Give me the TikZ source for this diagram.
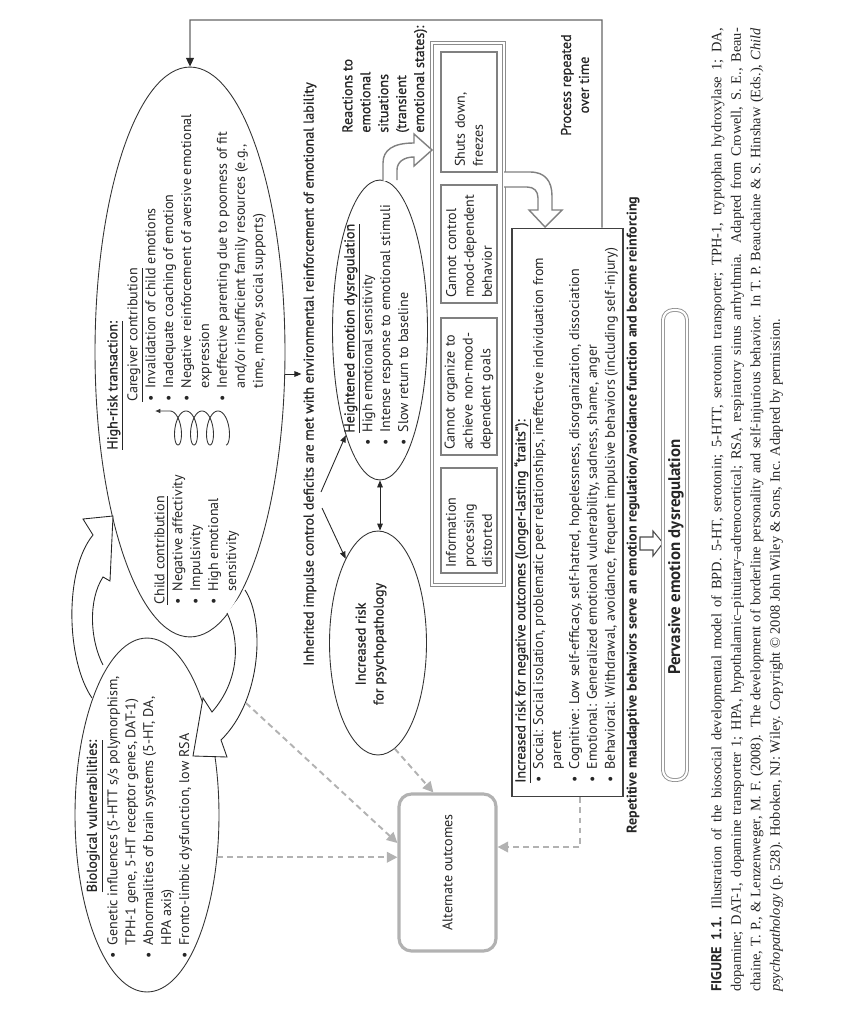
\documentclass[tikz,border=0pt]{standalone}
\usepackage{fontspec}
\usepackage{graphicx}
\setmainfont{Liberation Serif}
\newfontfamily\dgfont{PT Sans}
\newfontfamily\dgsemi[FakeBold=0.9]{PT Sans}
\usetikzlibrary{shapes.geometric,arrows.meta,positioning}
\newcommand{\bul}{\makebox[0.95em][l]{\textbullet}}
\newcommand{\cnt}{\hspace*{0.95em}}
\begin{document}
\begin{tikzpicture}[x=0.02cm,y=-0.02cm]
        \tikzstyle{txt}=[rotate=90,inner sep=0pt,align=left,text=black!85,font=\dgfont\fontsize{8}{10.2}\selectfont]
        \tikzstyle{stxt}=[txt,font=\dgsemi\fontsize{8}{10.2}\selectfont]
        \tikzstyle{btxt}=[txt,font=\dgfont\bfseries\fontsize{8}{10.2}\selectfont]
        \tikzstyle{oval}=[ellipse,draw=black!80,line width=0.5pt,inner sep=0pt]
        \tikzstyle{sbox}=[rectangle,draw=black!50,line width=0.8pt,rotate=90,inner xsep=0.1cm,inner ysep=0pt,align=left,minimum height=1.12cm,text=black!85,font=\dgfont\fontsize{8}{10.2}\selectfont]
        \tikzstyle{dbl}=[draw=black!45,double=white,double distance=1.2pt,line width=0.5pt,inner sep=0pt]
        \tikzstyle{blk}=[draw=black!85,fill=white,line width=0.5pt]
        \tikzstyle{gblk}=[draw=black!50,fill=white,line width=0.8pt]
        \tikzstyle{arr}=[draw=black!85,line width=0.5pt,-{Triangle[length=4pt,width=3.2pt]}]
        \tikzstyle{darr}=[draw=black!85,line width=0.5pt,{Triangle[length=4pt,width=3.2pt]}-{Triangle[length=4pt,width=3.2pt]}]
        \tikzstyle{dsh}=[draw=black!30,line width=1.1pt,dash pattern=on 3.4pt off 2.3pt,-{Triangle[length=6pt,width=6pt]}]
        \tikzstyle{fbk}=[draw=black!60,line width=0.7pt,-{Triangle[length=5pt,width=4.5pt,color=black!85]}]
        \useasboundingbox (0,0) rectangle (851,1024);
        \begin{scope}
           \node [oval,minimum width=3.8cm,minimum height=11.4cm] (hr) at (190,352) {};
           \node [oval,minimum width=2.88cm,minimum height=7.08cm] (bio) at (147,815) {};
           \node [oval,minimum width=1.9cm,minimum height=6cm] (hed) at (380,330) {};
           \node [oval,minimum width=1.94cm,minimum height=4.48cm] (psy) at (378,643) {};
           \node [stxt,anchor=north west] (hrt) at (107,450) {\underline{High-risk transaction:}};
           \node [txt,anchor=north west] (care) at (127,402) {\underline{Caregiver contribution}\\
              \bul Invalidation of child emotions\\
              \bul Inadequate coaching of emotion\\
              \bul Negative reinforcement of aversive emotional\\
              \cnt expression\\
              \bul Ineffective parenting due to poorness of fit\\
              \cnt and/or insufficient family resources (e.g.,\\
              \cnt time, money, social supports)};
           \node [txt,anchor=north west] (child) at (154,605) {\underline{Child contribution}\\
              \bul Negative affectivity\\
              \bul Impulsivity\\
              \bul High emotional\\
              \cnt sensitivity};
           \draw [draw=black!80,line width=0.5pt,-{Latex[length=3pt,width=2.6pt]}] plot [domain=1260:0,samples=200,variable=\t] ({170+\t/22.5+7*sin(\t)},{428-17*cos(\t)}) -- (155,411);
           \node [stxt] (biot) at (95,816) {\underline{Biological vulnerabilities:}};
           \node [txt,anchor=north west] (biol) at (107,959) {\bul Genetic influences (5-HTT s/s polymorphism,\\
              \cnt TPH-1 gene, 5-HT receptor genes, DAT-1)\\
              \bul Abnormalities of brain systems (5-HT, DA,\\
              \cnt HPA axis)\\
              \bul Fronto-limbic dysfunction, low RSA};
           \path [blk] (92,698) .. controls (66,660) and (64,570) .. (93,535) -- (83,519) -- (113,516) -- (110,581) -- (103,577) .. controls (88,600) and (90,640) .. (103,665);
           \path [blk] (245,590) .. controls (265,620) and (262,700) .. (221,740) -- (227,757) -- (193,756) -- (203,698) -- (212,712) .. controls (240,680) and (240,640) .. (227,613);
           \node [stxt] (inh) at (310,374) {Inherited impulse control deficits are met with environmental reinforcement of emotional lability};
           \draw [arr,shorten >=1pt] (inh.north -| hr.east) -- (inh.north);
           \coordinate (f1) at (321,492);
           \coordinate (f2) at (322,508);
           \draw [arr] (f1) -- (hed.252);
           \draw [arr] (f2) -- (psy.111);
           \draw [darr] (hed.south) -- (hed.south |- psy.north);
           \node [stxt,anchor=north west] (hedt) at (344,433) {\underline{Heightened emotion dysregulation}};
           \node [txt,anchor=north west] (hedl) at (362,446) {\bul High emotional sensitivity\\
              \bul Intense response to emotional stimuli\\
              \bul Slow return to baseline};
           \node [stxt,align=center] (psyt) at (371,644) {Increased risk\\for psychopathology};
           \node [stxt,anchor=north west] (react) at (342,133) {Reactions to\\emotional\\situations\\(transient\\emotional states):};
           \node [dbl,minimum width=1.44cm,minimum height=10.84cm] (rx) at (468,314) {};
           \node [sbox,minimum width=2.4cm,text width=2.2cm] (b1) at (469,112) {Shuts down,\\freezes};
           \node [sbox,minimum width=2.36cm,text width=2.16cm] (b2) at (469,244) {Cannot control\\mood-dependent\\behavior};
           \node [sbox,minimum width=2.74cm,text width=2.54cm] (b3) at (469,386.5) {Cannot organize to\\achieve non-mood-\\dependent goals};
           \node [sbox,minimum width=2.1cm,text width=1.9cm] (b4) at (469,520.5) {Information\\processing\\distorted};
           \path [gblk] (383,181) -- (383,163) .. controls (383,150) and (393,143) .. (414,143) -- (414,134) -- (432,150) -- (414,166) -- (414,157) .. controls (404,157) and (397,162) .. (397,170) -- (397,180);
           \path [gblk] (504,172) -- (530,172) .. controls (545,172) and (552,181) .. (552,196) -- (552,210) -- (562,210) -- (545,227) -- (529,210) -- (538,210) -- (538,198) .. controls (538,191) and (534,187) .. (527,187) -- (504,187);
           \node [stxt,align=center] (proc) at (575,85) {Process repeated\\over time};
           \node [draw=black!75,line width=0.6pt,minimum width=2.22cm,minimum height=11.38cm,inner sep=0pt] (out) at (567.5,512.5) {};
           \node [txt,anchor=north west] (outt) at (514,783) {{\dgsemi\underline{Increased risk for negative outcomes (longer-lasting “traits”):}}\\
              \bul Social: Social isolation, problematic peer relationships, ineffective individuation from\\
              \cnt parent\\
              \bul Cognitive: Low self-efficacy, self-hatred, hopelessness, disorganization, dissociation\\
              \bul Emotional: Generalized emotional vulnerability, sadness, shame, anger\\
              \bul Behavioral: Withdrawal, avoidance, frequent impulsive behaviors (including self-injury)};
           \coordinate (fb) at ([xshift=0.69cm]out.north);
           \coordinate (tp) at (602,20);
           \draw [fbk] (fb) -- (tp) -| (hr.north);
           \node [btxt] (rep) at (633,515) {Repetitive maladaptive behaviors serve an emotion regulation/avoidance function and become reinforcing};
           \path [draw=black!70,fill=white,line width=0.6pt] (640,537) -- (653,537) -- (653,531) -- (663,543) -- (653,556) -- (653,550) -- (640,550) -- cycle;
           \node [dbl,rounded corners=0.2cm,minimum width=0.48cm,minimum height=9.4cm] (pv) at (675,545) {};
           \node [btxt,font=\dgfont\bfseries\fontsize{9.6}{11}\selectfont] (pvt) at (676,557) {Pervasive emotion dysregulation};
           \node [draw=black!30,line width=1.8pt,rounded corners=0.25cm,minimum width=1.94cm,minimum height=3.14cm,text=black!85,font=\dgfont\fontsize{8}{10.2}\selectfont] (alt) at (447.5,872.5) {\rotatebox{90}{Alternate outcomes}};
           \coordinate (a2o) at (246,703);
           \coordinate (ob) at ([xshift=0.25cm]out.south);
           \draw [dsh] (bio.-31) -- (bio.-31 -| alt.west);
           \draw [dsh] (a2o) -- ([yshift=0.59cm]alt.west);
           \draw [dsh] (psy.-81) -- (alt.100);
           \draw [dsh] (ob) |- ([yshift=0.51cm]alt.east);
           \node [rotate=90,text width=19.28cm,inner sep=0pt,align=justify,text=black!85,font=\fontsize{8.2}{11.1}\selectfont] (cap) at (747,510) {{\dgfont\bfseries FIGURE 1.1.}\hspace{0.5em}Illustration of the biosocial developmental model of BPD. 5-HT, serotonin; 5-HTT, serotonin transporter; TPH-1, tryptophan hydroxylase 1; DA,\linebreak dopamine; DAT-1, dopamine transporter 1; HPA, hypothalamic–pituitary–adrenocortical; RSA, respiratory sinus arrhythmia. Adapted from Crowell, S. E., Beau-\linebreak chaine, T. P., \& Lenzenweger, M. F. (2008). The development of borderline personality and self-injurious behavior. In T. P. Beauchaine \& S. Hinshaw (Eds.), \emph{Child}\linebreak \emph{psychopathology} (p.~528). Hoboken, NJ: Wiley. Copyright © 2008 John Wiley \& Sons, Inc. Adapted by permission.};
        \end{scope}
\end{tikzpicture}
\end{document}
